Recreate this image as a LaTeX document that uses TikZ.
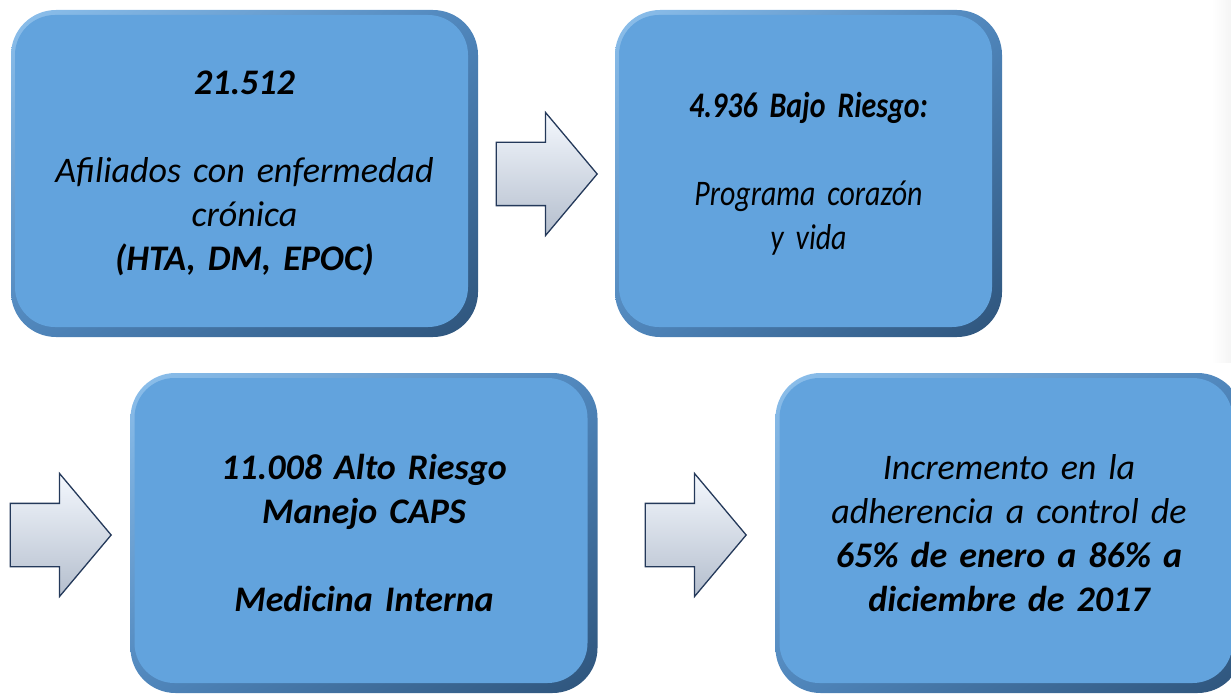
\documentclass[tikz,border=0pt]{standalone}
\usepackage{fontspec}
\setmainfont{Carlito}[WordSpace=0.75]
\newfontfamily\narrowfont{Carlito}[FakeStretch=0.83, WordSpace=0.75]
\usetikzlibrary{shapes.arrows,shadings}
\definecolor{boxface}{HTML}{62A3DD}
\definecolor{boxlight}{HTML}{8DC0EC}
\definecolor{boxmid}{HTML}{4F86BC}
\definecolor{boxdark}{HTML}{2E547B}
\definecolor{arrowline}{HTML}{24395A}
\definecolor{arrowtop}{HTML}{F4F8FE}
\definecolor{arrowface}{HTML}{E6EEFB}
\definecolor{arrowlow}{HTML}{B4BECD}

\begin{document}
\begin{tikzpicture}[x=1pt, y=-1pt,
	stage/.style={rectangle, rounded corners=45pt, minimum width=467pt, minimum height=327pt,
		align=center, text width=440pt,
		upper left=boxlight, upper right=boxmid, lower left=boxmid, lower right=boxdark,
		path picture={\fill[boxface, rounded corners=40pt]
			([xshift=4pt,yshift=-5pt]path picture bounding box.north west) rectangle
			([xshift=-10pt,yshift=10pt]path picture bounding box.south east);},
		font=\itshape\fontsize{36}{44}\selectfont},
	pointer/.style={single arrow, anchor=tip, draw=arrowline, line width=1.3pt, minimum height=101pt,
		minimum width=122pt, single arrow head extend=30pt, single arrow tip angle=100,
		inner xsep=0pt, inner ysep=31pt, top color=arrowtop, middle color=arrowface, bottom color=arrowlow}]
		\clip (0,0) rectangle (1231,695);
		\fill[left color=white, right color=gray!8] (1212,0) rectangle (1231,362);

		% upper row
		\node[stage] (afiliados) at (244.5, 173.5) {\textbf{21.512}\\[44pt] Afiliados con enfermedad\\ crónica\\ \textbf{(HTA, DM, EPOC)}};
		\node[stage, minimum width=387pt, text width=360pt, font=\narrowfont\itshape\fontsize{36}{44}\selectfont] (bajo) at (808.5, 173.5) {\textbf{4.936 Bajo Riesgo:}\\[44pt] Programa corazón\\ y vida};
		\node[pointer] (paso1) at (598, 174) {};

		% lower row
		\node[pointer] (paso2) at (112, 535) {};
		\node[stage, minimum height=320pt] (alto) at (364, 533) {\textbf{11.008 Alto Riesgo}\\ \textbf{Manejo CAPS}\\[44pt] \textbf{Medicina Interna}};
		\node[pointer] (paso3) at (747, 535) {};
		\node[stage, minimum height=320pt] (control) at (1009, 533) {Incremento en la\\ adherencia a control de\\ \textbf{65\% de enero a 86\% a}\\ \textbf{diciembre de 2017}};

	\end{tikzpicture}
\end{document}
